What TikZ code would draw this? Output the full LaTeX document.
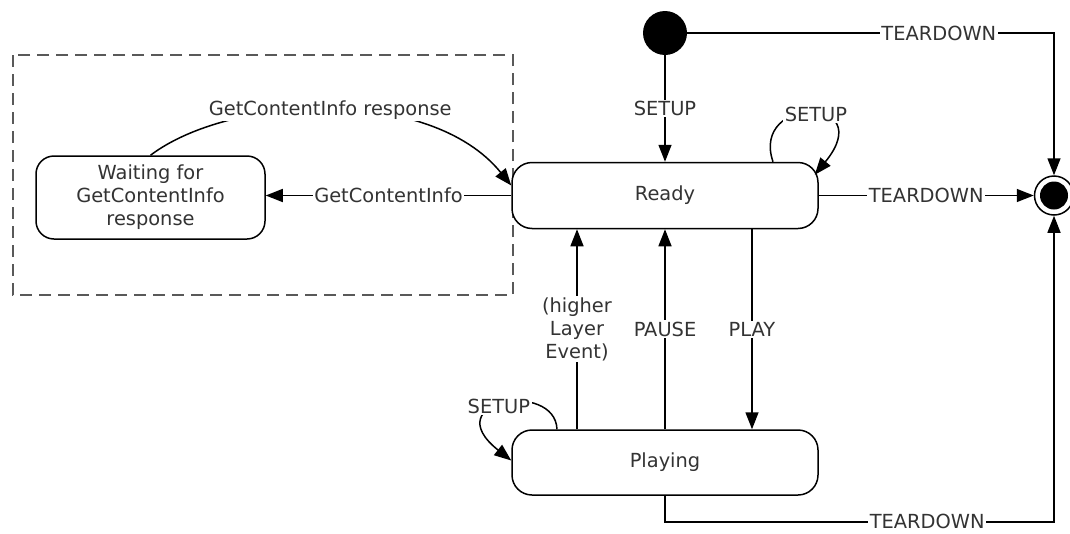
\documentclass[tikz,border=0pt]{standalone}
\usepackage{fontspec}
\setmainfont{DejaVu Sans}
\usetikzlibrary{positioning}
\usetikzlibrary{calc}
\usetikzlibrary{arrows.meta}

\begin{document}
\begin{tikzpicture}[x=1pt, y=-1pt,
			every node/.style={font=\fontsize{19.4}{23}\selectfont, text=black!80},
			state/.style={rectangle, draw, line width=1.5pt, fill=white, rounded corners=20pt, minimum width=306pt, minimum height=66pt, align=center},
			startdot/.style={circle, fill=black, minimum size=44pt, inner sep=0pt},
			enddot/.style={circle, draw, line width=1.5pt, fill=white, minimum size=39pt, inner sep=0pt,
				path picture={\fill[black] (path picture bounding box.center) circle (14pt);}},
			groupbox/.style={draw=black!65, line width=1.6pt, dash pattern=on 12pt off 7pt},
			arrow/.style={-{Triangle[length=17pt,width=13pt]}, line width=1.5pt},
			lbl/.style={fill=white, inner sep=1.5pt, align=center}
		]
			\useasboundingbox (0,0) rectangle (1070,533);

			% Group
			\draw[groupbox] (13,55) rectangle (513,295);

			% States
			\node[state] (ready) at (665,195.5) {Ready};
			\node[state, minimum height=65pt] (playing) at (665,462.5) {Playing};
			\node[state, minimum width=229pt, minimum height=83pt, rounded corners=18pt] (waiting) at (150.5,197.5) {Waiting for\\GetContentInfo\\response};
			\node[startdot] (init) at (665,33) {};
			\node[enddot] (stop) at (1054,195.5) {};

			% Arrows
			\draw[arrow] (init) -- node[lbl] {SETUP} (ready);
			\draw[arrow] (init) -| node[lbl, pos=0.343] {TEARDOWN} (stop);
			\draw[arrow] (ready) -- node[lbl] {TEARDOWN} (stop);
			\draw[arrow] (ready.west) -- node[lbl] {GetContentInfo} (ready.west -| waiting.east);
			\draw[arrow] (waiting.north) .. controls (230,95) and (430,85) .. node[lbl] {GetContentInfo response} ([yshift=10pt]ready.west);
			\draw[arrow] ([xshift=108pt]ready.north) .. controls (750,95) and (880,95) .. node[lbl, pos=0.55] {SETUP} ([xshift=-4pt,yshift=-13pt]ready.north east);
			\draw[arrow] ([xshift=-88pt]playing.north) -- node[lbl] {(higher\\Layer\\Event)} ([xshift=-88pt]ready.south);
			\draw[arrow] (playing) -- node[lbl] {PAUSE} (ready);
			\draw[arrow] ([xshift=87pt]ready.south) -- node[lbl] {PLAY} ([xshift=87pt]playing.north);
			\draw[arrow] ([xshift=-108pt]playing.north) .. controls (555,380) and (435,400) .. node[lbl, pos=0.55] {SETUP} ([yshift=2pt]playing.west);
			\draw[arrow] (playing.south) -- ++(0,26) -| node[lbl, pos=0.337] {TEARDOWN} (stop);
		\end{tikzpicture}
\end{document}
